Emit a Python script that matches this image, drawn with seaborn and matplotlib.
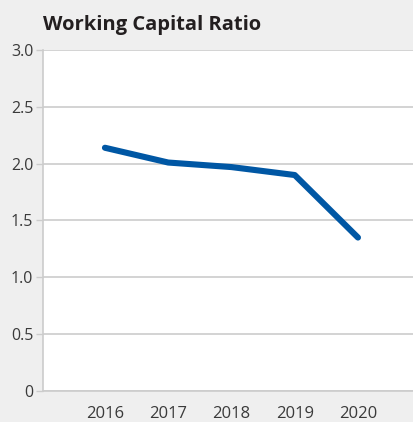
import matplotlib
matplotlib.use("Agg")
import matplotlib.pyplot as plt
import seaborn as sns
import pandas as pd

years = ["2016", "2017", "2018", "2019", "2020"]
ratio = [2.14, 2.01, 1.97, 1.90, 1.35]
y_ticks = [0, 0.5, 1.0, 1.5, 2.0, 2.5, 3.0]
y_labels = ["0", "0.5", "1.0", "1.5", "2.0", "2.5", "3.0"]

df = pd.DataFrame({"year": years, "ratio": ratio})

sns.set_style("white")
plt.rcParams["font.family"] = ["Open Sans", "DejaVu Sans"]

bg = "#efefef"
grid_c = "#cccccc"
text_c = "#3a3a3a"

fig = plt.figure(figsize=(4.13, 4.22), dpi=100, facecolor=bg)
ax = fig.add_axes([0.104, 0.0735, 0.896, 0.808])
ax.set_facecolor("white")

df["x"] = range(len(years))
sns.lineplot(data=df, x="x", y="ratio", ax=ax, color="#0057a4", linewidth=4.4,
             solid_capstyle="round", solid_joinstyle="round")

ax.set_xlim(-0.98, 4.87)
ax.set_ylim(0, 3.0)
ax.set_xticks(range(len(years)))
ax.set_xticklabels(years)
ax.set_yticks(y_ticks)
ax.set_yticklabels(y_labels)
ax.yaxis.grid(True, color=grid_c, linewidth=1.2)
ax.set_axisbelow(True)

for s in ["top", "right"]:
    ax.spines[s].set_visible(False)
ax.spines["left"].set_color(grid_c)
ax.spines["left"].set_linewidth(1.2)
ax.spines["bottom"].set_color(grid_c)
ax.spines["bottom"].set_linewidth(1.2)

ax.tick_params(axis="y", length=5, width=1, color=grid_c, labelsize=11.5,
               labelcolor=text_c, pad=2, left=True)
ax.tick_params(axis="x", length=0, labelsize=12, labelcolor=text_c, pad=11)
ax.set_xlabel("")
ax.set_ylabel("")

fig.text(0.104, 0.93, "Working Capital Ratio", fontsize=14.5, fontweight="bold",
         color="#231f20", ha="left", va="baseline")

fig.savefig("out.png", dpi=100, facecolor=bg)
